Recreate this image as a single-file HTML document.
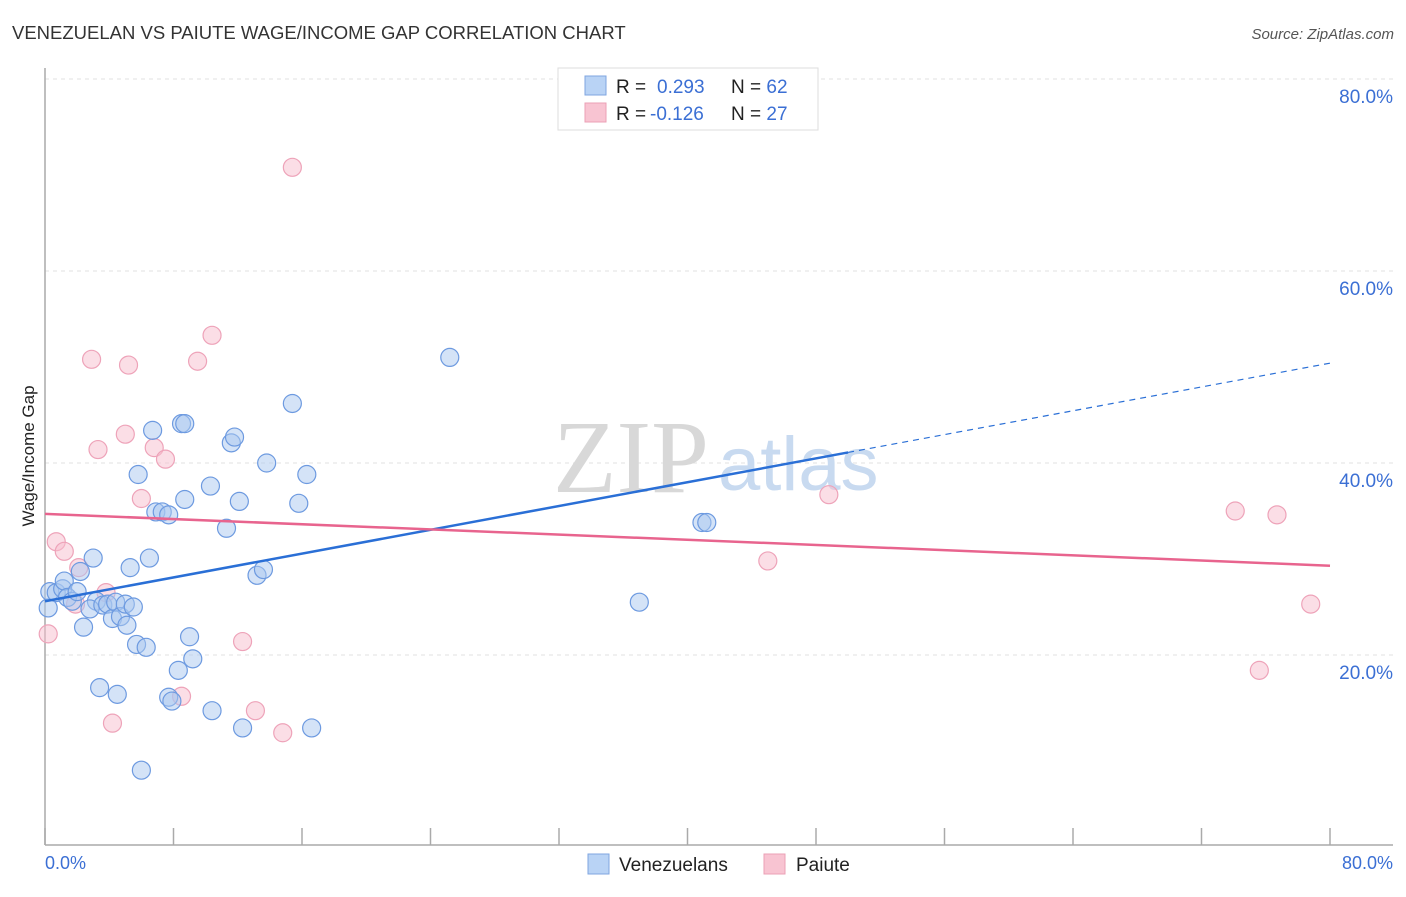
<!DOCTYPE html>
<html><head><meta charset="utf-8"><style>
body{margin:0;background:#fff;font-family:"Liberation Sans",sans-serif;}
svg text{font-family:"Liberation Sans",sans-serif;}
</style></head><body>
<svg id="chart" width="1406" height="892" xmlns="http://www.w3.org/2000/svg">
<text x="12" y="39" font-size="18.5" fill="#333">VENEZUELAN VS PAIUTE WAGE/INCOME GAP CORRELATION CHART</text>
<text x="1394" y="39" font-size="15" fill="#555" text-anchor="end" font-style="italic">Source: ZipAtlas.com</text>
<g id="grid"></g>
<text x="553" y="492" font-size="104" fill="#d8d8d8" style="font-family:'Liberation Serif',serif">ZIP</text>
<text x="718" y="490" font-size="76" fill="#c8daf0">atlas</text>
<line x1="45" y1="68" x2="45" y2="845" stroke="#aaa" stroke-width="1.5"/>
<line x1="45" y1="845" x2="1393" y2="845" stroke="#aaa" stroke-width="1.5"/>
<text transform="translate(34,456) rotate(-90)" font-size="17" fill="#222" text-anchor="middle">Wage/Income Gap</text>
<text x="45" y="869" font-size="18" fill="#3b6fd4">0.0%</text>
<text x="1393" y="869" font-size="18" fill="#3b6fd4" text-anchor="end">80.0%</text>
<g id="marks"></g>
<g>
<rect x="558" y="68" width="260" height="62" fill="#fff" stroke="#ddd"/>
<rect x="585" y="76" width="21" height="19" fill="#b9d3f5" stroke="#7fa6e0"/>
<rect x="585" y="103" width="21" height="19" fill="#f8c4d2" stroke="#eba0b6"/>
<text x="616" y="93" font-size="19" fill="#222">R = <tspan fill="#3b6fd4" x="657">0.293</tspan><tspan x="731" fill="#222">N = </tspan><tspan fill="#3b6fd4">62</tspan></text>
<text x="616" y="120" font-size="19" fill="#222">R = <tspan fill="#3b6fd4" x="650">-0.126</tspan><tspan x="731" fill="#222">N = </tspan><tspan fill="#3b6fd4">27</tspan></text>
</g>
<g>
<rect x="588" y="854" width="21" height="20" fill="#b9d3f5" stroke="#7fa6e0"/>
<text x="619" y="871" font-size="19" fill="#222">Venezuelans</text>
<rect x="764" y="854" width="21" height="20" fill="#f8c4d2" stroke="#eba0b6"/>
<text x="796" y="871" font-size="19" fill="#222">Paiute</text>
</g>
</svg>
<script>
const yTicks=[20,40,60,80];
const yTickLabels=["20.0%","40.0%","60.0%","80.0%"];
const xTickVals=[0,8,16,24,32,40,48,56,64,72,80];
const venX=[0.2,0.3,0.7,1.1,1.2,1.4,1.7,2.0,2.2,2.4,3.0,3.2,2.8,3.4,3.6,3.9,4.2,4.4,4.5,4.7,5.0,5.1,5.3,5.5,5.7,5.8,6.0,6.3,6.5,6.7,6.9,7.3,7.7,7.7,7.9,8.3,8.5,8.7,8.7,9.0,9.2,10.3,10.4,11.3,11.6,11.8,12.1,12.3,13.2,13.6,13.8,15.4,15.8,16.3,16.6,25.2,37.0,40.9,41.2];
const venY=[24.9,26.6,26.5,26.9,27.7,26.0,25.6,26.6,28.7,22.9,30.1,25.6,24.8,16.6,25.2,25.3,23.8,25.5,15.9,24.0,25.3,23.1,29.1,25.0,21.1,38.8,8.0,20.8,30.1,43.4,34.9,34.9,34.6,15.6,15.2,18.4,44.1,44.1,36.2,21.9,19.6,37.6,14.2,33.2,42.1,42.7,36.0,12.4,28.3,28.9,40.0,46.2,35.8,38.8,12.4,51.0,25.5,33.8,33.8];
const paiX=[0.2,0.7,1.2,1.9,2.1,2.9,3.3,3.8,4.2,5.0,5.2,6.0,6.8,7.5,8.5,9.5,10.4,12.3,13.1,14.8,15.4,45.0,48.8,74.1,76.7,78.8,75.6];
const paiY=[22.2,31.8,30.8,25.3,29.1,50.8,41.4,26.5,12.9,43.0,50.2,36.3,41.6,40.4,15.7,50.6,53.3,21.4,14.2,11.9,70.8,29.8,36.7,35.0,34.6,25.3,18.4];
const venTrend=[25.6,50.4];
const paiTrend=[34.7,29.3];
const NS="http://www.w3.org/2000/svg";
const X0=45,X1=1330,Y0=847,PX=(X1-X0)/80,PY=9.6;
const xs=v=>X0+v*PX, ys=v=>Y0-v*PY;
const grid=document.getElementById('grid');
yTicks.forEach((t,i)=>{
  const l=document.createElementNS(NS,'line');
  l.setAttribute('x1',45);l.setAttribute('x2',1393);l.setAttribute('y1',ys(t));l.setAttribute('y2',ys(t));
  l.setAttribute('stroke','#e2e2e2');l.setAttribute('stroke-dasharray','4,4');
  
  
  grid.appendChild(l);
  const tx=document.createElementNS(NS,'text');
  tx.setAttribute('x',1393);tx.setAttribute('y',ys(t)+24);tx.setAttribute('text-anchor','end');
  tx.setAttribute('font-size','19');tx.setAttribute('fill','#3b6fd4');tx.textContent=yTickLabels[i];
  
  
  grid.appendChild(tx);
});
xTickVals.forEach(t=>{
  const l=document.createElementNS(NS,'line');
  l.setAttribute('x1',xs(t));l.setAttribute('x2',xs(t));l.setAttribute('y1',828);l.setAttribute('y2',845);
  l.setAttribute('stroke','#aaa');l.setAttribute('stroke-width','1.5');
  
  
  grid.appendChild(l);
});
const marks=document.getElementById('marks');
function dot(x,y,fill,stroke,name){
  const c=document.createElementNS(NS,'circle');
  c.setAttribute('cx',xs(x));c.setAttribute('cy',ys(y));c.setAttribute('r',9);
  c.setAttribute('fill',fill);c.setAttribute('stroke',stroke);c.setAttribute('stroke-width','1.2');
  
  
  marks.appendChild(c);
}
paiX.forEach((x,i)=>dot(x,paiY[i],'rgba(248,190,206,0.5)','#eea3b9','paiute-point'));
venX.forEach((x,i)=>dot(x,venY[i],'rgba(170,200,240,0.5)','#6d9ae0','venezuelan-point'));
function line(x1,y1,x2,y2,col,dash,name){
  const l=document.createElementNS(NS,'line');
  l.setAttribute('x1',xs(x1));l.setAttribute('y1',ys(y1));l.setAttribute('x2',xs(x2));l.setAttribute('y2',ys(y2));
  l.setAttribute('stroke',col);l.setAttribute('stroke-width',dash?1.2:2.5);
  if(dash)l.setAttribute('stroke-dasharray','6,5');
  
  
  marks.appendChild(l);
}
const vAt=x=>venTrend[0]+(venTrend[1]-venTrend[0])*x/80;
line(0,venTrend[0],50,vAt(50),'#2a6fd6',false,'venezuelan-trendline');
line(50,vAt(50),80,venTrend[1],'#2a6fd6',true,'venezuelan-trendline-extension');
line(0,paiTrend[0],80,paiTrend[1],'#e8648e',false,'paiute-trendline');
</script>
</body></html>
